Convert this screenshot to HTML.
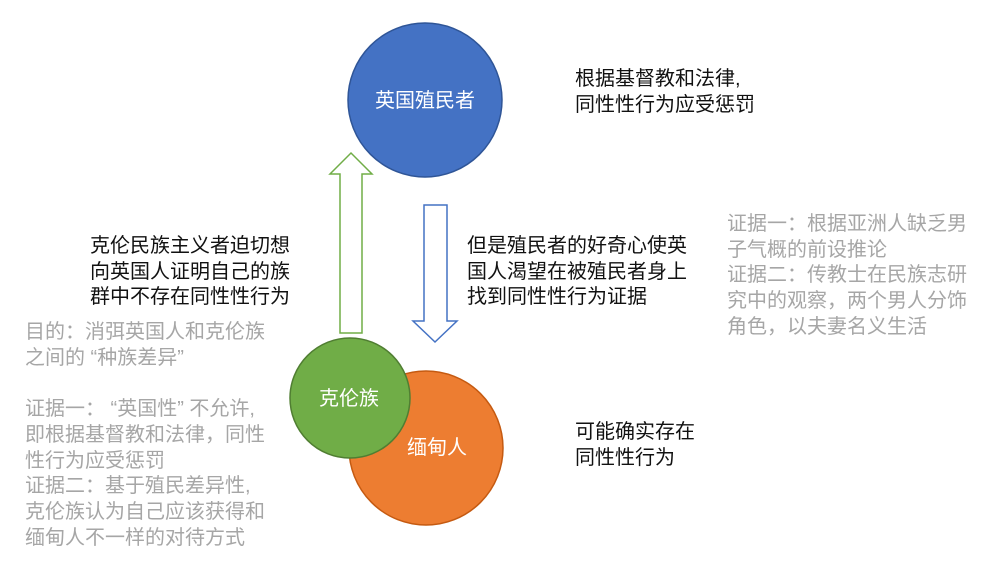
<!DOCTYPE html>
<html><head><meta charset="utf-8"><style>
body{margin:0;width:998px;height:562px;background:#fff;position:relative;overflow:hidden;font-family:"Liberation Sans","Noto Sans CJK SC",sans-serif}
.t{position:absolute;font-size:20px;line-height:25.7px;white-space:nowrap;color:#111}
.g{color:#a6a6a6}
</style></head><body>
<svg width="998" height="562" style="position:absolute;left:0;top:0">
<circle cx="425" cy="100" r="77" fill="#4472c4" stroke="#2f5597" stroke-width="1.5"/>
<circle cx="426" cy="448" r="77" fill="#ed7d31" stroke="#c55a11" stroke-width="1.5"/>
<circle cx="350" cy="398" r="60" fill="#70ad47" stroke="#507e32" stroke-width="1.5"/>
<polygon points="340,333 362,333 362,174 372,174 351,153 330,174 340,174" fill="#fff" stroke="#70ad47" stroke-width="1.5"/>
<polygon points="424,205 447,205 447,321 457,321 435,342 413,321 424,321" fill="#fff" stroke="#4472c4" stroke-width="1.5"/>
<text x="425" y="107" font-size="20" fill="#fff" text-anchor="middle" font-family="Liberation Sans,Noto Sans CJK SC,sans-serif">英国殖民者</text>
<text x="437" y="454" font-size="20" fill="#fff" text-anchor="middle" font-family="Liberation Sans,Noto Sans CJK SC,sans-serif">缅甸人</text>
<text x="349" y="405" font-size="20" fill="#fff" text-anchor="middle" font-family="Liberation Sans,Noto Sans CJK SC,sans-serif">克伦族</text>
</svg>
<div class="t" style="left:575px;top:67px">根据基督教和法律,<br>同性性行为应受惩罚</div>
<div class="t" style="left:90px;top:234px">克伦民族主义者迫切想<br>向英国人证明自己的族<br>群中不存在同性性行为</div>
<div class="t" style="left:467px;top:234px">但是殖民者的好奇心使英<br>国人渴望在被殖民者身上<br>找到同性性行为证据</div>
<div class="t g" style="left:727px;top:212px">证据一：根据亚洲人缺乏男<br>子气概的前设推论<br>证据二：传教士在民族志研<br>究中的观察，两个男人分饰<br>角色，以夫妻名义生活</div>
<div class="t g" style="left:25px;top:320px">目的：消弭英国人和克伦族<br>之间的 “种族差异”<br><br>证据一： “英国性” 不允许,<br>即根据基督教和法律，同性<br>性行为应受惩罚<br>证据二：基于殖民差异性,<br>克伦族认为自己应该获得和<br>缅甸人不一样的对待方式</div>
<div class="t" style="left:575px;top:420px">可能确实存在<br>同性性行为</div>
</body></html>
